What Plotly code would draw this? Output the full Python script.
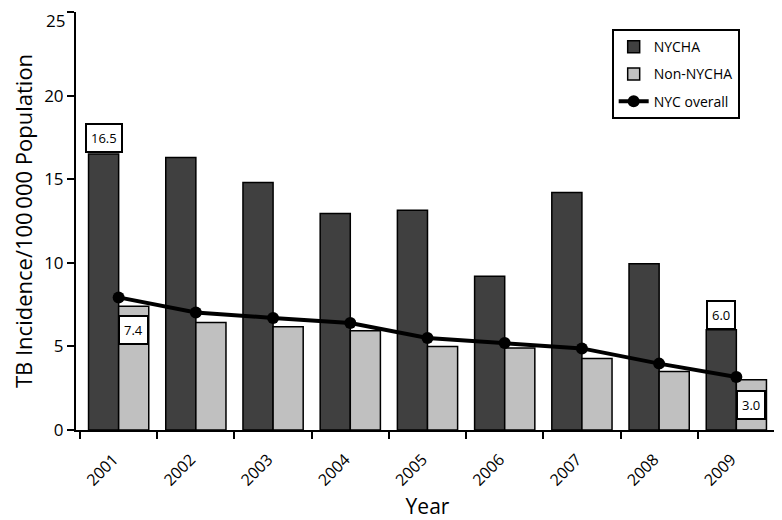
import plotly.graph_objects as go

years = ["2001", "2002", "2003", "2004", "2005", "2006", "2007", "2008", "2009"]
nycha = [16.5, 16.3, 14.8, 12.95, 13.15, 9.2, 14.2, 9.95, 6.0]
non_nycha = [7.4, 6.43, 6.18, 5.94, 5.0, 4.9, 4.28, 3.5, 3.0]
nyc_overall = [7.93, 7.03, 6.7, 6.4, 5.5, 5.2, 4.88, 3.97, 3.17]
y_ticks = [0, 5, 10, 15, 20, 25]
y_ticktext = ["0", "5", "10", "15", "20", ""]
top_tick_text = "25"

label_texts = ["16.5", "7.4", "6.0", "3.0"]
label_x = [0 - 0.195, 0 + 0.195, 8 - 0.195, 8 + 0.195]
label_y = [17.45, 5.97, 6.9, 1.48]

font_family = "Open Sans, Lato, DejaVu Sans, sans-serif"

fig = go.Figure()
fig.add_trace(go.Bar(
    x=years, y=nycha, name="NYCHA", legendgroup="a",
    marker=dict(color="#404040", line=dict(color="black", width=1.5)),
))
fig.add_trace(go.Bar(
    x=years, y=non_nycha, name="Non-NYCHA", legendgroup="b",
    marker=dict(color="#c0c0c0", line=dict(color="black", width=1.5)),
))
fig.add_trace(go.Scatter(
    x=years, y=nyc_overall, name="NYC overall", mode="lines+markers", legendgroup="c",
    line=dict(color="black", width=4),
    marker=dict(color="black", size=12),
))

for t, xv, yv in zip(label_texts, label_x, label_y):
    fig.add_annotation(
        x=xv, y=yv, xref="x", yref="y", text=t, showarrow=False,
        font=dict(size=13, color="black", family=font_family),
        bgcolor="white", bordercolor="black", borderwidth=2, borderpad=4,
    )

# top y tick label drawn as annotation so it is not clipped at the page edge
fig.add_annotation(
    x=0, y=y_ticks[-1], xref="paper", yref="y", text=top_tick_text, showarrow=False,
    xanchor="right", yanchor="top", xshift=-10, yshift=4, borderpad=0,
    font=dict(size=17, color="black", family=font_family),
)

fig.update_layout(
    width=774, height=512,
    margin=dict(l=68, r=3, t=4, b=90),
    paper_bgcolor="white", plot_bgcolor="white",
    barmode="group", bargap=0.22, bargroupgap=0,
    font=dict(family=font_family, color="black"),
    showlegend=True,
    legend=dict(
        x=0.762, y=0.959, xanchor="left", yanchor="top",
        bordercolor="black", borderwidth=2, bgcolor="white",
        font=dict(size=14), tracegroupgap=6, itemwidth=30,
    ),
    xaxis=dict(
        type="category", showline=True, linecolor="black", linewidth=2,
        ticks="outside", tickson="boundaries", ticklen=7, tickwidth=2, tickcolor="black",
        tickangle=-45, tickfont=dict(size=16), automargin=False,
        ticklabelstandoff=12, ticklabelshift=-5,
        title=dict(text="Year", font=dict(size=21)),
        showgrid=False, zeroline=False,
    ),
    yaxis=dict(
        range=[0, 25], tickvals=y_ticks, ticktext=y_ticktext,
        showline=True, linecolor="black", linewidth=2,
        ticks="outside", ticklen=7, tickwidth=2, tickcolor="black",
        tickfont=dict(size=17), automargin=False,
        title=dict(text="TB Incidence/100\u2009000 Population", font=dict(size=22), standoff=14),
        showgrid=False, zeroline=False,
    ),
)

fig.write_html("out.html")
